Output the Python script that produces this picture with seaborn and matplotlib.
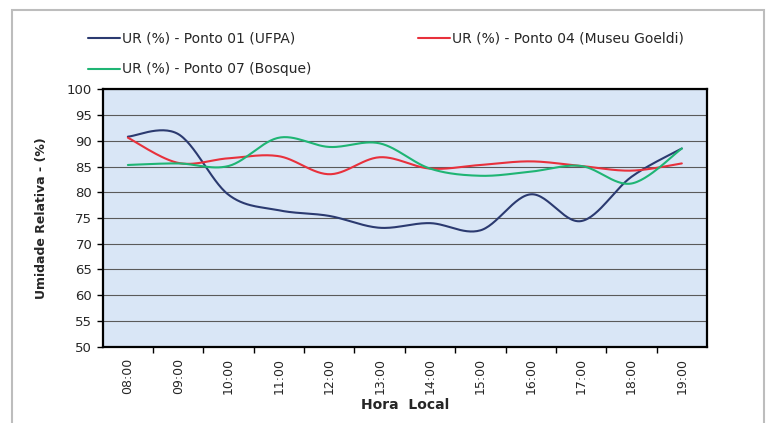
import numpy as np
import pandas as pd
import matplotlib
matplotlib.use("Agg")
import matplotlib.pyplot as plt
import seaborn as sns
from matplotlib.patches import Rectangle

hours = ["08:00", "09:00", "10:00", "11:00", "12:00", "13:00",
         "14:00", "15:00", "16:00", "17:00", "18:00", "19:00"]
ur_ufpa = [90.8, 91.3, 79.5, 76.5, 75.4, 73.1, 74.0, 72.6, 79.6, 74.4, 83.0, 88.5]
ur_goeldi = [90.6, 85.7, 86.6, 87.0, 83.5, 86.8, 84.6, 85.3, 86.0, 85.1, 84.2, 85.6]
ur_bosque = [85.3, 85.6, 85.1, 90.6, 88.8, 89.5, 84.6, 83.2, 84.0, 85.1, 81.7, 88.5]
labels = ["UR (%) - Ponto 01 (UFPA)", "UR (%) - Ponto 04 (Museu Goeldi)",
          "UR (%) - Ponto 07 (Bosque)"]
colors = ["#2b3a70", "#e8313c", "#1fb574"]


def smooth(y, n=30):
    """Catmull-Rom rendering of a smoothed line (Excel-style)."""
    y = np.asarray(y, float)
    x = np.arange(len(y), dtype=float)
    px = np.concatenate([[x[0]], x, [x[-1]]])
    py = np.concatenate([[y[0]], y, [y[-1]]])
    xs, ys = [], []
    for i in range(1, len(px) - 2):
        p0, p1, p2, p3 = (np.array([px[j], py[j]]) for j in (i - 1, i, i + 1, i + 2))
        c1 = p1 + (p2 - p0) / 6.0
        c2 = p2 - (p3 - p1) / 6.0
        t = np.linspace(0, 1, n, endpoint=(i == len(px) - 3))[:, None]
        b = ((1 - t) ** 3) * p1 + 3 * ((1 - t) ** 2) * t * c1 + 3 * (1 - t) * t ** 2 * c2 + t ** 3 * p2
        xs.append(b[:, 0]); ys.append(b[:, 1])
    return np.concatenate(xs), np.concatenate(ys)


sns.set_theme(style="white")
plt.rcParams["font.family"] = ["DejaVu Sans"]

fig = plt.figure(figsize=(7.71, 4.23), dpi=100)
fig.patches.append(Rectangle((12 / 771, -0.1), (764 - 12) / 771, 1.1 - 10 / 423,
                             transform=fig.transFigure, fill=False,
                             edgecolor="#bdbdbd", linewidth=1.5))
ax = fig.add_axes([0.1332, 0.1804, 0.917 - 0.1332, 0.7889 - 0.1804])
ax.set_facecolor("#d9e6f6")

for vals, lab, col in zip([ur_ufpa, ur_goeldi, ur_bosque], labels, colors):
    xs, ys = smooth(vals)
    sns.lineplot(x=xs, y=ys, color=col, linewidth=1.5, ax=ax, label=lab,
                 sort=False, estimator=None)

handles, labs = ax.get_legend_handles_labels()
ax.get_legend().remove()
order = [0, 2, 1]
fig.legend([handles[i] for i in order], [labs[i] for i in order], ncol=2,
           loc="upper left", bbox_to_anchor=(0.114, 0.925), frameon=False,
           fontsize=10, handlelength=2.3, handletextpad=0.15,
           columnspacing=7.7, labelspacing=1.2, borderpad=0, borderaxespad=0)

ax.set_xlim(-0.5, len(hours) - 0.5)
ax.set_ylim(50, 100)
ax.set_yticks(np.arange(50, 101, 5))
ax.set_xticks(np.arange(0.5, len(hours) - 0.5, 1))
ax.set_xticklabels([])
ax.set_xticks(np.arange(len(hours)), minor=True)
ax.set_xticklabels(hours, minor=True, rotation=90, fontsize=9)
ax.tick_params(axis="x", which="major", length=4, width=1, color="black", direction="out", bottom=True)
ax.tick_params(axis="x", which="minor", length=0, pad=8, bottom=True)
ax.tick_params(axis="y", length=4, width=1, color="black", direction="out", labelsize=9.5, left=True)
ax.yaxis.grid(True, color="#5a5a5a", linewidth=0.8)
ax.set_axisbelow(True)
for s in ax.spines.values():
    s.set_color("black")
    s.set_linewidth(1.6)

ax.set_ylabel("Umidade Relativa - (%)", fontsize=9, fontweight="bold", labelpad=14)
ax.set_xlabel("Hora  Local", fontsize=10, fontweight="bold", labelpad=3)

fig.savefig("out.png", dpi=100)
